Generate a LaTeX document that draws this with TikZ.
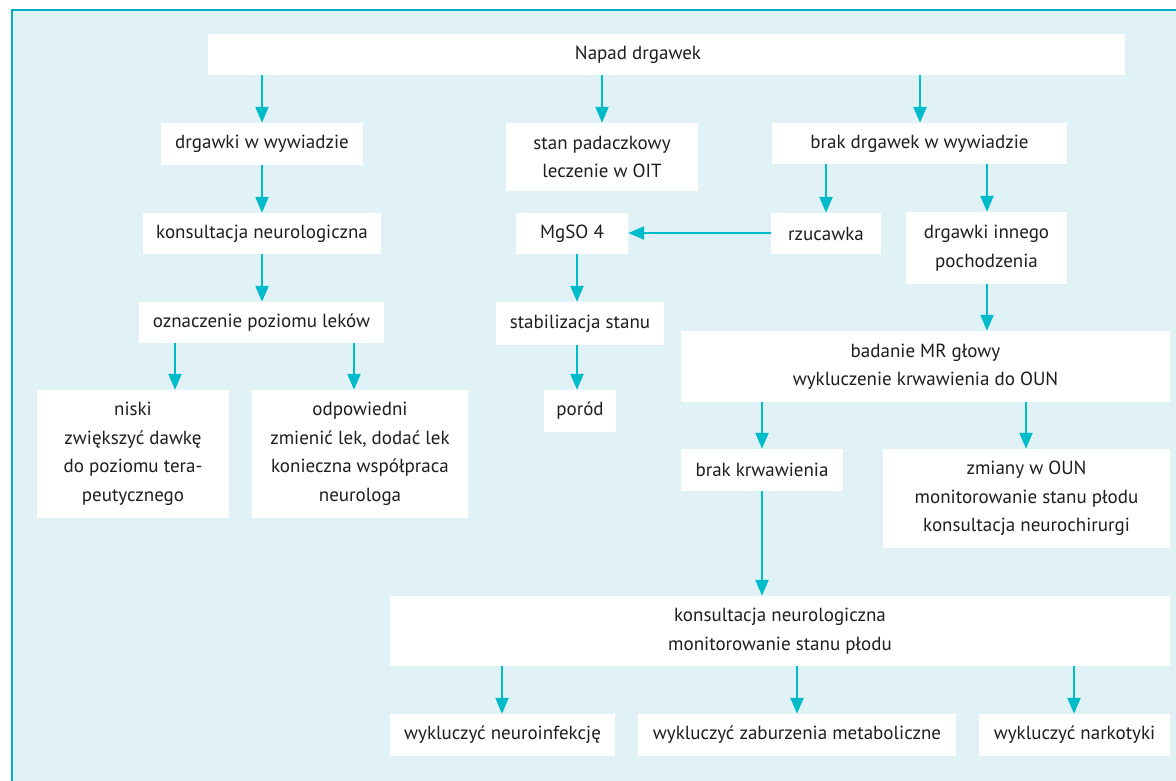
\documentclass[tikz,border=0pt]{standalone}
\usepackage{fontspec}
\setmainfont{PT Sans}
\usetikzlibrary{arrows.meta}
\definecolor{panel}{HTML}{E0F2F5}
\definecolor{frameline}{HTML}{00B0C4}
\definecolor{flow}{HTML}{00BCCB}
\definecolor{ink}{HTML}{1E1E1E}
\begin{document}
\begin{tikzpicture}[x=1pt,y=-1pt,
  box/.style={fill=white,draw=none,inner sep=0pt,align=center,text=ink,
    font=\fontsize{19}{28.5}\selectfont},
  txt/.style={inner sep=0pt,align=center,text=ink,font=\fontsize{19}{28.5}\selectfont},
  arr/.style={draw=flow,line width=2.3pt,-{Triangle[length=16pt,width=13pt]},shorten >=0pt}]
\useasboundingbox (0,0) rectangle (1176,780);
% panel with its frame
\draw[fill=panel,draw=frameline,line width=2.5pt] (12,10) rectangle (1200,800);
% boxes: \bx{name}{x1}{x2}{y1}{y2}{text}
\newcommand\bx[6]{%
  \node[box,minimum width=#3-#2,minimum height=#5-#4] (#1) at ({(#2+#3)/2},{(#4+#5)/2}) {#6};}
\node[box,minimum width=917,minimum height=41] (top) at (666.5,54.5) {};
\node[txt] (toptxt) at (638,55) {Napad drgawek};
\bx{dw}{161}{363}{123}{165}{drgawki w wywiadzie}
\bx{sp}{506}{698}{123}{191}{stan padaczkowy\\leczenie w OIT}
\bx{bd}{772}{1067}{123}{164}{brak drgawek w wywiadzie}
\bx{kn}{143}{381}{213}{254}{konsultacja neurologiczna}
\bx{mg}{516}{628}{213}{254}{MgSO 4}
\bx{rz}{771}{881}{213}{254}{rzucawka}
\bx{di}{906}{1067}{212}{284}{drgawki innego\\pochodzenia}
\bx{oz}{139}{384}{302}{343}{oznaczenie poziomu leków}
\bx{st}{496}{664}{302}{345}{stabilizacja stanu}
\bx{mr}{681}{1170}{331}{402}{badanie MR głowy\\wykluczenie krwawienia do OUN}
\bx{ni}{37}{229}{390}{518}{niski\\zwiększyć dawkę\\do poziomu tera-\\peutycznego}
\bx{od}{252}{468}{390}{518}{odpowiedni\\zmienić lek, dodać lek\\konieczna współpraca\\neurologa}
\bx{po}{544}{616}{390}{432}{poród}
\bx{bk}{681}{843}{449}{491}{brak krwawienia}
\bx{zm}{883}{1170}{449}{548}{zmiany w OUN\\monitorowanie stanu płodu\\konsultacja neurochirurgi}
\bx{kb}{390}{1170}{596}{666}{konsultacja neurologiczna\\monitorowanie stanu płodu}
\bx{wa}{390}{615}{714}{756}{wykluczyć neuroinfekcję}
\bx{wb}{638}{956}{714}{756}{wykluczyć zaburzenia metaboliczne}
\bx{wc}{979}{1170}{714}{756}{wykluczyć narkotyki}
% connectors
\draw[arr] (top.south -| 262,0) -- (dw.north -| 262,0);
\draw[arr] (top.south -| 602,0) -- (sp.north -| 602,0);
\draw[arr] (top.south -| 920,0) -- (bd.north -| 920,0);
\draw[arr] (dw.south -| 262,0) -- (kn.north -| 262,0);
\draw[arr] (kn.south -| 262,0) -- (oz.north -| 262,0);
\draw[arr] (oz.south -| 175,0) -- (ni.north -| 175,0);
\draw[arr] (oz.south -| 354,0) -- (od.north -| 354,0);
\draw[arr] (bd.south -| 826,0) -- (rz.north -| 826,0);
\draw[arr] (bd.south -| 987,0) -- (di.north -| 987,0);
\draw[arr] (rz.west |- 0,233) -- (mg.east |- 0,233);
\draw[arr] (mg.south -| 577,0) -- (st.north -| 577,0);
\draw[arr] (st.south -| 577,0) -- (po.north -| 577,0);
\draw[arr] (di.south -| 987,0) -- (mr.north -| 987,0);
\draw[arr] (mr.south -| 762,0) -- (bk.north -| 762,0);
\draw[arr] (mr.south -| 1026,0) -- (zm.north -| 1026,0);
\draw[arr] (bk.south -| 762,0) -- (kb.north -| 762,0);
\draw[arr] (kb.south -| 502,0) -- (wa.north -| 502,0);
\draw[arr] (kb.south -| 797,0) -- (wb.north -| 797,0);
\draw[arr] (kb.south -| 1074,0) -- (wc.north -| 1074,0);
\end{tikzpicture}
\end{document}
